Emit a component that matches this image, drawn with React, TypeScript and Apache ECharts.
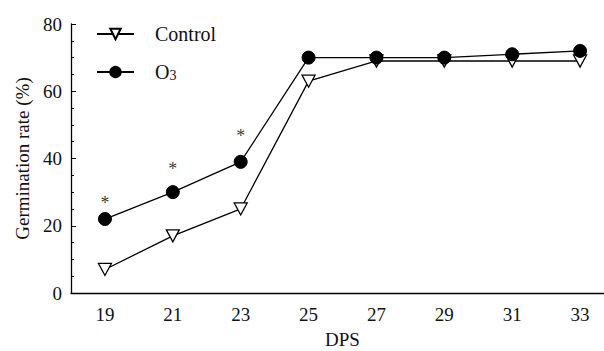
import React, { useEffect, useRef } from "react";
import * as echarts from "echarts";

const dps = [19, 21, 23, 25, 27, 29, 31, 33];
const controlValues = [7, 17, 25, 63, 69, 69, 69, 69];
const o3Values = [22, 30, 39, 70, 70, 70, 71, 72];
const asteriskDps = [19, 21, 23];
const asteriskLevels = [28, 38, 48];
const xTicks = [19, 21, 23, 25, 27, 29, 31, 33];

const FONT = "Liberation Serif";
const TRI = "path://M0,0 L12,0 L6,11 Z";

export default function App() {
  const ref = useRef<HTMLDivElement>(null);
  useEffect(() => {
    if (!ref.current) return;
    const chart = echarts.init(ref.current, null, { renderer: "svg" });
    chart.setOption({
      animation: false,
      backgroundColor: "#ffffff",
      textStyle: { fontFamily: FONT, color: "#111" },
      grid: { left: 71, top: 24, bottom: 58, right: -10, containLabel: false, outerBoundsMode: "none" },
      legend: {
        orient: "vertical",
        left: 91,
        top: 19,
        itemWidth: 37,
        itemHeight: 13,
        itemGap: 15,
        textStyle: {
          fontFamily: FONT,
          fontSize: 20,
          lineHeight: 20,
          color: "#111",
          padding: [0, 0, 0, 16],
          rich: {
            sub: { fontFamily: FONT, fontSize: 14, verticalAlign: "bottom", lineHeight: 20, padding: [9, 0, 0, 0], color: "#111" },
            base: { fontFamily: FONT, fontSize: 20, lineHeight: 20, color: "#111" },
          },
        },
        formatter: (name: string) => (name === "O3" ? "{base|O}{sub|3}" : name),
        data: ["Control", "O3"],
      },
      xAxis: {
        type: "value",
        min: 18,
        max: 34,
        interval: 1,
        name: "DPS",
        nameLocation: "middle",
        nameGap: 37,
        nameTextStyle: { fontFamily: FONT, fontSize: 19, color: "#111" },
        axisLine: { show: true, lineStyle: { color: "#000", width: 1.3 } },
        axisTick: { show: false },
        splitLine: { show: false },
        axisLabel: {
          fontFamily: FONT,
          fontSize: 19,
          color: "#111",
          margin: 12,
          formatter: (v: number) => (xTicks.indexOf(v) >= 0 ? String(v) : ""),
        },
      },
      yAxis: {
        type: "value",
        min: 0,
        max: 80,
        interval: 20,
        name: "Germination rate (%)",
        nameLocation: "middle",
        nameGap: 37,
        nameTextStyle: { fontFamily: FONT, fontSize: 19, color: "#111" },
        axisLine: { show: true, lineStyle: { color: "#000", width: 1.3 } },
        axisTick: { show: true, inside: true, length: 5, lineStyle: { color: "#000" } },
        minorTick: { show: true, splitNumber: 4, length: 3, lineStyle: { color: "#000" } },
        splitLine: { show: false },
        axisLabel: { fontFamily: FONT, fontSize: 19, color: "#111", margin: 9 },
      },
      series: [
        {
          name: "Control",
          type: "line",
          data: dps.map((d, i) => [d, controlValues[i]]),
          symbol: TRI,
          symbolSize: [13, 12],
          lineStyle: { color: "#000", width: 1.3 },
          itemStyle: { color: "#fff", borderColor: "#000", borderWidth: 1.3 },
          z: 2,
        },
        {
          name: "O3",
          type: "line",
          data: dps.map((d, i) => [d, o3Values[i]]),
          symbol: "circle",
          symbolSize: 13,
          lineStyle: { color: "#000", width: 1.3 },
          itemStyle: { color: "#000", borderColor: "#000", borderWidth: 1 },
          z: 3,
        },
        {
          name: "sig",
          type: "scatter",
          data: asteriskDps.map((d, i) => [d, asteriskLevels[i]]),
          symbol: "circle",
          symbolSize: 1,
          itemStyle: { color: "rgba(0,0,0,0)" },
          label: {
            show: true,
            formatter: "*",
            position: "inside",
            offset: [0, 4],
            fontFamily: FONT,
            fontSize: 18,
            fontWeight: "normal",
            color: "#000",
            textBorderWidth: 0,
          },
          z: 4,
        },
      ],
    });
    return () => chart.dispose();
  }, []);
  return <div ref={ref} style={{ width: 604, height: 351, position: "absolute", left: 0, top: 0 }} />;
}
